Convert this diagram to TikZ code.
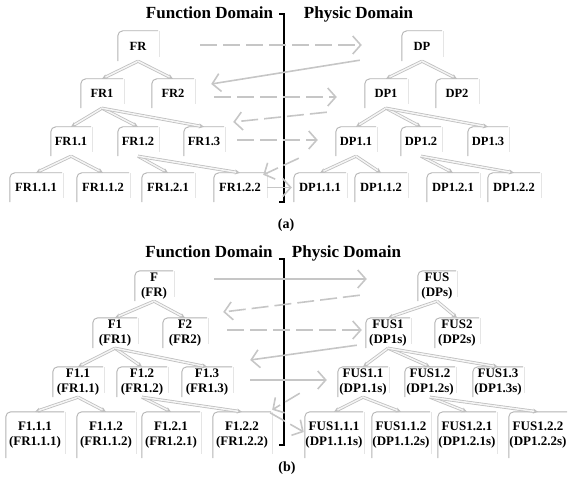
\documentclass[tikz,border=0pt]{standalone}
\usepackage{fontspec}
\setmainfont{Liberation Serif}
\usetikzlibrary{arrows.meta,calc}
\begin{document}
\begin{tikzpicture}[x=1pt,y=-1pt,
  bx/.style={inner sep=0pt, align=center, font=\bfseries\fontsize{12.5}{14.5}\selectfont},
  bxb/.style={inner sep=0pt, align=center, font=\bfseries\fontsize{13}{15}\selectfont},
  laA/.style={bx, minimum width=40pt, minimum height=30pt},
  lbA/.style={bx, minimum width=42pt, minimum height=29pt},
  lcA/.style={bx, minimum width=40pt, minimum height=29pt},
  ldA/.style={bx, minimum width=52pt, minimum height=29pt},
  laB/.style={bxb, minimum width=38pt, minimum height=30pt},
  lbB/.style={bxb, minimum width=44pt, minimum height=30pt},
  lcB/.style={bxb, minimum width=50pt, minimum height=30pt},
  ldB/.style={bxb, minimum width=58pt, minimum height=46pt},
  boxedge/.style={draw=gray!60, line width=0.9pt, rounded corners=5pt},
  boxshade/.style={draw=gray!20, line width=0.8pt},
  tree/.style={draw=gray!50, double=gray!8, double distance=1.5pt, line width=0.8pt, -{Stealth[length=5pt,width=5pt]}},
  cross/.style={draw=gray!45, line width=1.6pt, -{Straight Barb[length=8pt,width=18pt]}},
  dsh/.style={dash pattern=on 17pt off 6pt},
  title/.style={font=\bfseries\fontsize{17}{20}\selectfont, anchor=base},
  caplabel/.style={font=\bfseries\fontsize{14}{16}\selectfont}
]
\useasboundingbox (0,0) rectangle (568,484);

% ---------------- (a) ----------------
\node[title] (taF) at (209.5,19) {Function Domain};
\node[title] (taP) at (358.5,19) {Physic Domain};
\draw[line width=1.8pt] (279,14) -- (284,14) -- (284,202) -- (279,202);

\node[laA] (aFR) at (138,46) {FR};
\node[laA] (aDP) at (422,46) {DP};

\node[lbA] (aFR1) at (102,93.5) {FR1};
\node[lbA] (aFR2) at (173,93.5) {FR2};
\node[lbA] (aDP1) at (386,93.5) {DP1};
\node[lbA] (aDP2) at (457,93.5) {DP2};

\node[lcA] (aFR11) at (71,141.5) {FR1.1};
\node[lcA] (aFR12) at (138,141.5) {FR1.2};
\node[lcA] (aFR13) at (204,141.5) {FR1.3};
\node[lcA] (aDP11) at (356,141.5) {DP1.1};
\node[lcA] (aDP12) at (421,141.5) {DP1.2};
\node[lcA] (aDP13) at (488,141.5) {DP1.3};

\node[ldA] (aFR111) at (36,187.5) {FR1.1.1};
\node[ldA] (aFR112) at (103,187.5) {FR1.1.2};
\node[ldA] (aFR121) at (168,187.5) {FR1.2.1};
\node[ldA] (aFR122) at (240,187.5) {FR1.2.2};
\node[ldA] (aDP111) at (320,187.5) {DP1.1.1};
\node[ldA] (aDP112) at (381,187.5) {DP1.1.2};
\node[ldA] (aDP121) at (453,187.5) {DP1.2.1};
\node[ldA] (aDP122) at (514,187.5) {DP1.2.2};

\node[caplabel] (capa) at (286,225) {(a)};

% ---------------- (b) ----------------
\node[title] (tbF) at (209,258) {Function Domain};
\node[title] (tbP) at (346.5,258) {Physic Domain};
\draw[line width=1.8pt] (279,259) -- (284,259) -- (284,445) -- (279,445);

\node[laB] (bF) at (154,286) {F\\(FR)};
\node[laB] (bFUS) at (437,286) {FUS\\(DPs)};

\node[lbB] (bF1) at (115,333) {F1\\(FR1)};
\node[lbB] (bF2) at (185,333) {F2\\(FR2)};
\node[lbB] (bFUS1) at (388,333) {FUS1\\(DP1s)};
\node[lbB] (bFUS2) at (457,333) {FUS2\\(DP2s)};

\node[lcB] (bF11) at (78,382) {F1.1\\(FR1.1)};
\node[lcB] (bF12) at (142,382) {F1.2\\(FR1.2)};
\node[lcB] (bF13) at (207,382) {F1.3\\(FR1.3)};
\node[lcB] (bFUS11) at (363,382) {FUS1.1\\(DP1.1s)};
\node[lcB] (bFUS12) at (430,382) {FUS1.2\\(DP1.2s)};
\node[lcB] (bFUS13) at (498,382) {FUS1.3\\(DP1.3s)};

\node[ldB] (bF111) at (35,435) {F1.1.1\\(FR1.1.1)};
\node[ldB] (bF112) at (106,435) {F1.1.2\\(FR1.1.2)};
\node[ldB] (bF121) at (171,435) {F1.2.1\\(FR1.2.1)};
\node[ldB] (bF122) at (242,435) {F1.2.2\\(FR1.2.2)};
\node[ldB] (bFUS111) at (334,435) {FUS1.1.1\\(DP1.1.1s)};
\node[ldB] (bFUS112) at (401,435) {FUS1.1.2\\(DP1.1.2s)};
\node[ldB] (bFUS121) at (467,435) {FUS1.2.1\\(DP1.2.1s)};
\node[ldB] (bFUS122) at (538,435) {FUS1.2.2\\(DP1.2.2s)};

\node[caplabel] (capb) at (287,468) {(b)};

% box outlines (top + left, rounded top-left corner)
\foreach \n in {aFR,aDP,aFR1,aFR2,aDP1,aDP2,aFR11,aFR12,aFR13,aDP11,aDP12,aDP13,
  aFR111,aFR112,aFR121,aFR122,aDP111,aDP112,aDP121,aDP122,
  bF,bFUS,bF1,bF2,bFUS1,bFUS2,bF11,bF12,bF13,bFUS11,bFUS12,bFUS13,
  bF111,bF112,bF121,bF122,bFUS111,bFUS112,bFUS121,bFUS122}{
  \draw[boxshade] ([xshift=1pt]\n.north east) -- ([xshift=1pt,yshift=4pt]\n.south east);
  \draw[boxedge] (\n.south west) |- (\n.north east);
}

% tree arrows
\foreach \p/\c in {aFR/aFR1,aFR/aFR2,aDP/aDP1,aDP/aDP2,
  aFR1/aFR11,aFR1/aFR12,aFR1/aFR13,aDP1/aDP11,aDP1/aDP12,aDP1/aDP13,
  aFR11/aFR111,aFR11/aFR112,aFR12/aFR121,aFR12/aFR122,
  aDP11/aDP111,aDP11/aDP112,aDP12/aDP121,aDP12/aDP122,
  bF/bF1,bF/bF2,bFUS/bFUS1,bFUS/bFUS2,
  bF1/bF11,bF1/bF12,bF1/bF13,bFUS1/bFUS11,bFUS1/bFUS12,bFUS1/bFUS13,
  bF11/bF111,bF11/bF112,bF12/bF121,bF12/bF122,
  bFUS11/bFUS111,bFUS11/bFUS112,bFUS12/bFUS121,bFUS12/bFUS122}{
  \draw[tree] (\p.south) -- (\c.north);
}

% cross-domain arrows (a)
\draw[cross,dsh] ($(aFR.east)+(42,-1)$) -- ($(aDP.west)+(-40,-1)$);
\draw[cross] ($(aDP.south west)+(-42,-1)$) -- ($(aFR2.east)+(17,-9.5)$);
\draw[cross,dsh] ($(aFR2.east)+(20,3.5)$) -- ($(aDP1.west)+(-28,3.5)$);
\draw[cross,dsh] ($(aDP1.south west)+(-38,4)$) -- ($(aFR13.east)+(9,-19.5)$);
\draw[cross,dsh] ($(aFR13.east)+(13,-1.5)$) -- ($(aDP11.west)+(-18,-1.5)$);
\draw[cross,dsh] ($(aDP11.south west)+(-37,2)$) -- ($(aFR122.north east)+(-3,2)$);
\draw[cross] ($(aFR122.east)+(1,0)$) -- ($(aDP111.west)+(-2,0)$);

% cross-domain arrows (b)
\draw[cross] ($(bF.east)+(41,-7)$) -- ($(bFUS.west)+(-51,-7)$);
\draw[cross,dsh] ($(bFUS.south west)+(-58,-6)$) -- ($(bF2.east)+(16,-21)$);
\draw[cross,dsh] ($(bF2.east)+(20,-3)$) -- ($(bFUS1.west)+(-4,-3)$);
\draw[cross] ($(bFUS1.south west)+(-9,-3)$) -- ($(bF13.east)+(18,-22)$);
\draw[cross] ($(bF13.east)+(18,-2)$) -- ($(bFUS11.west)+(-11,-2)$);
\draw[cross,dsh] ($(bFUS11.south west)+(-38,-4)$) -- ($(bF122.north east)+(1,-2)$);
\draw[cross,dsh] ($(bF122.north east)+(-1,1)$) -- ($(bFUS111.west)+(-1,-3)$);
\end{tikzpicture}
\end{document}
